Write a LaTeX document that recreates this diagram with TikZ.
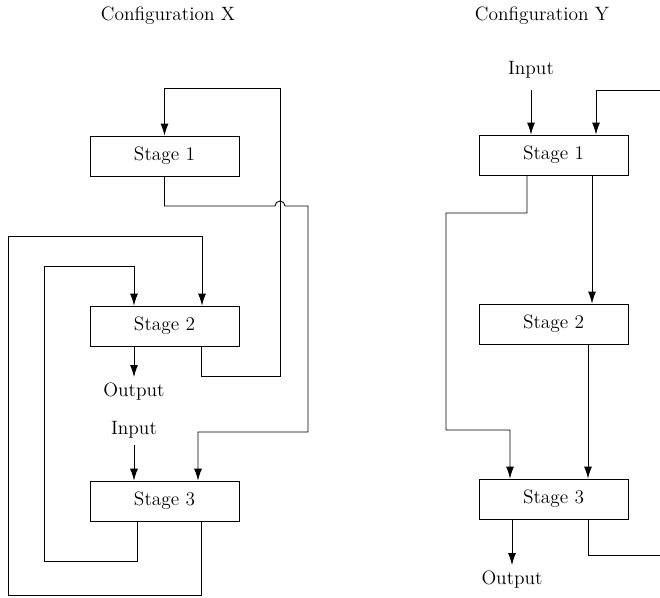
\documentclass[tikz,border=0pt]{standalone}
\usetikzlibrary{arrows.meta}

\begin{document}
\begin{tikzpicture}[>={Latex[length=2.4mm,width=1.6mm]}, line width=0.5pt,
	font=\fontsize{11}{13}\selectfont,
	stage/.style={draw, minimum width=2.98cm, minimum height=0.8cm, inner sep=0pt}]
	\useasboundingbox (0,0) rectangle (13.2,11.94);
	\node (titleX) at (3.36,11.62) {Configuration X};
	\node (titleY) at (10.84,11.62) {Configuration Y};

	% configuration X
	\node[stage] (xs1) at (3.29,8.82) {Stage 1};
	\node[stage] (xs2) at (3.29,5.42) {Stage 2};
	\node[stage] (xs3) at (3.29,1.92) {Stage 3};
	\node (xout) at (2.68,4.1) {Output};
	\node (xin) at (2.68,3.34) {Input};
	\draw[->] (xs2.south -| xout) -- (xout.north);
	\draw[->] (xin.south) -- (xin |- xs3.north);
	\draw[->] ([xshift=7.3mm]xs2.south) |- (5.6,4.42) |- ([yshift=9.4mm]xs1.north) -- (xs1.north);
	\draw[->] (xs1.south) |- (5.5,7.82) arc[start angle=180, end angle=0, radius=0.1] -- (6.16,7.82) |- (3.96,3.3) -- ([xshift=6.7mm]xs3.north);
	\draw[->] ([xshift=7.3mm]xs3.south) |- (0.16,0.03) |- (4.04,7.22) -- ([xshift=7.5mm]xs2.north);
	\draw[->] ([xshift=-5.5mm]xs3.south) |- (0.88,0.72) |- (2.68,6.62) -- ([xshift=-6.1mm]xs2.north);

	% configuration Y
	\node[stage] (ys1) at (11.07,8.84) {Stage 1};
	\node[stage] (ys2) at (11.07,5.46) {Stage 2};
	\node[stage] (ys3) at (11.07,1.96) {Stage 3};
	\node (yin) at (10.62,10.54) {Input};
	\node (yout) at (10.24,0.34) {Output};
	\coordinate (yfbin) at (13.2,10.14);
	\coordinate (yfbout) at (13.2,0.84);
	\draw[->] ([yshift=-1mm]yin.south) -- (yin |- ys1.north);
	\draw[->] (yfbin) -| ([xshift=8.5mm]ys1.north);
	\draw[->] ([xshift=-5.3mm]ys1.south) |- (8.92,7.68) |- (10.2,3.34) -- ([xshift=-8.7mm]ys3.north);
	\draw[->] ([xshift=7.7mm]ys1.south) -- ([xshift=7.7mm]ys2.north);
	\draw[->] ([xshift=6.9mm]ys2.south) -- ([xshift=6.9mm]ys3.north);
	\draw[->] (ys3.south -| yout) -- (yout.north);
	\draw ([xshift=6.9mm]ys3.south) |- (yfbout);
\end{tikzpicture}
\end{document}
